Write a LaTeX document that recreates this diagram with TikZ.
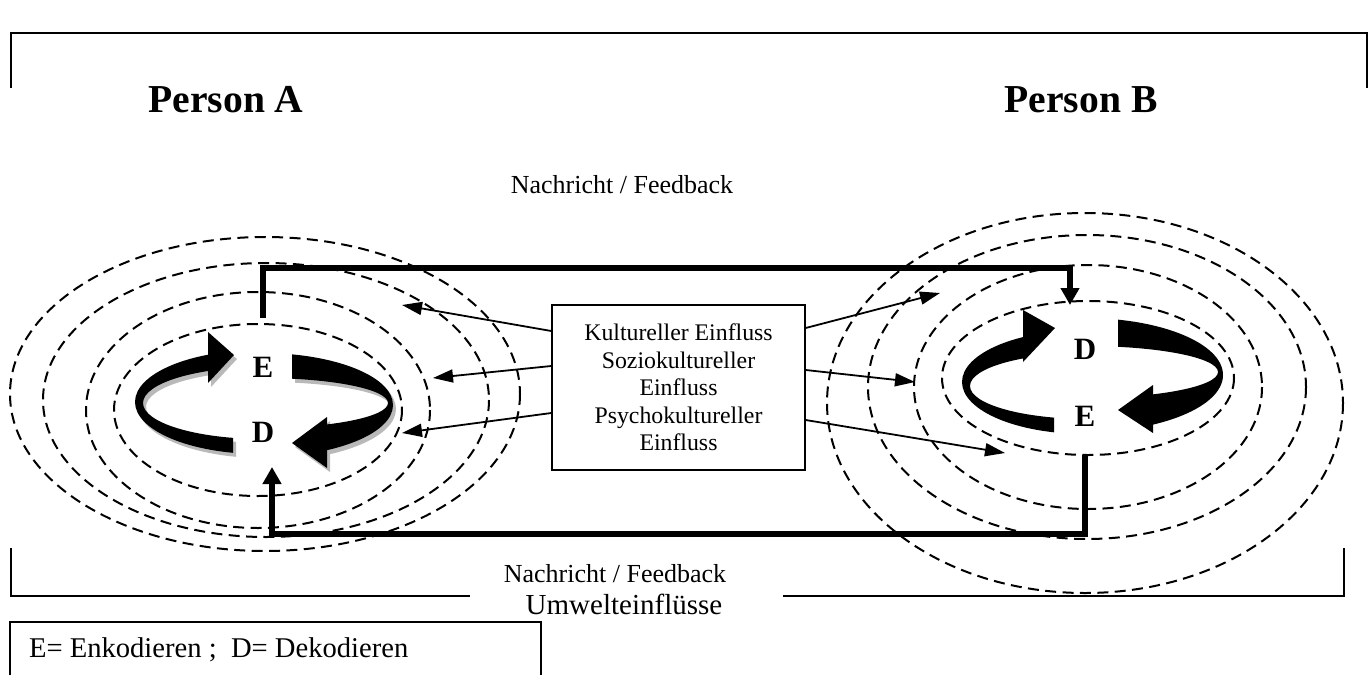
\documentclass[tikz,border=0pt]{standalone}
\usepackage{fontspec}
\setmainfont{Liberation Serif}
\usetikzlibrary{arrows.meta}

% Shapes of the two circular arrows of one person (band between two ellipses)
\newcommand{\cyclebandsA}{%
  \begin{scope}
    \clip (100,300) -- (208,300) -- (208,402) -- (233,402) -- (233,500) -- (100,500) -- cycle;
    \fill[even odd rule] (260,402) ellipse [x radius=125, y radius=52]
                         (263,403) ellipse [x radius=120, y radius=36];
  \end{scope}
  \fill (208,332) -- (234,355) -- (208,383) -- cycle;
  \begin{scope}
    \clip (292,300) -- (450,300) -- (450,500) -- (327,500) -- (327,404) -- (292,404) -- cycle;
    \fill[even odd rule] (262,405) ellipse [x radius=131, y radius=52]
                         (262,403) ellipse [x radius=126, y radius=25];
  \end{scope}
  \fill (327,417) -- (292,443) -- (327,468) -- cycle;
}
\newcommand{\cyclebandsB}{%
  \begin{scope}
    \clip (900,280) -- (1023,280) -- (1023,382) -- (1054,382) -- (1054,480) -- (900,480) -- cycle;
    \fill[even odd rule] (1085,382) ellipse [x radius=123, y radius=52]
                         (1088,386) ellipse [x radius=118, y radius=33];
  \end{scope}
  \fill (1023,310) -- (1055,328) -- (1023,362) -- cycle;
  \begin{scope}
    \clip (1118,280) -- (1300,280) -- (1300,480) -- (1153,480) -- (1153,375) -- (1118,375) -- cycle;
    \fill[even odd rule] (1085,375) ellipse [x radius=138, y radius=57]
                         (1085,372) ellipse [x radius=133, y radius=26];
  \end{scope}
  \fill (1153,385) -- (1118,410) -- (1153,433) -- cycle;
}

\begin{document}
\begin{tikzpicture}[x=0.5pt, y=-0.5pt,
  ring/.style={line width=1pt, dash pattern=on 5.5pt off 3.2pt},
  bracket/.style={line width=1pt},
  flow/.style={line width=2.6pt, -{Triangle[length=8.5pt,width=9pt]}},
  infl/.style={line width=0.9pt, -{Triangle[length=10pt,width=6.5pt]}},
  person/.style={font=\bfseries\fontsize{19.8}{23}\selectfont, anchor=base},
  msg/.style={font=\fontsize{13}{16}\selectfont, anchor=base},
  letter/.style={font=\bfseries\fontsize{15.5}{18}\selectfont},
]
\useasboundingbox (0,0) rectangle (1371,675);

% environment bracket (top and bottom)
\draw[bracket] (11,88) -- (11,33) -- (1367,33) -- (1367,88);
\coordinate (ul) at (11,548);
\coordinate (ur) at (1344,548);
\draw[bracket] (ul) |- (470,596);
\draw[bracket] (ur) |- (783,596);
\node[font=\fontsize{14.5}{17}\selectfont, anchor=base] (env) at (624,614) {Umwelteinflüsse};

% persons
\node[person] (pa) at (226,112) {Person A};
\node[person] (pb) at (1081,112) {Person B};

% field of influence around each person
\draw[ring] (265,394) ellipse [x radius=255, y radius=157];
\draw[ring] (266,400) ellipse [x radius=223, y radius=137];
\draw[ring] (258,410) ellipse [x radius=172, y radius=118];
\draw[ring] (258,410) ellipse [x radius=144, y radius=86];

\draw[ring] (1085,403) ellipse [x radius=258, y radius=190];
\draw[ring] (1087,387) ellipse [x radius=219, y radius=152];
\draw[ring] (1088,387) ellipse [x radius=174, y radius=122];
\draw[ring] (1088,378) ellipse [x radius=146, y radius=77];

% encoding / decoding cycles
\begin{scope}[shift={(3,4)}, gray!55]
  \cyclebandsA
\end{scope}
\begin{scope}[black]
  \cyclebandsA
\end{scope}
\begin{scope}[black]
  \cyclebandsB
\end{scope}
\node[letter] (ea) at (263,367) {E};
\node[letter] (da) at (263,432) {D};
\node[letter] (db) at (1085,349) {D};
\node[letter] (eb) at (1085,416) {E};

% message / feedback channels
\coordinate (a-out) at (263,318);
\coordinate (b-in)  at (1070,305);
\coordinate (b-out) at (1085,455);
\coordinate (a-in)  at (272,467);
\draw[flow] (a-out) -- (263,268) -| (b-in);
\draw[flow] (b-out) -- (1085,534) -| (a-in);
\node[msg] (msg-top) at (622,193) {Nachricht / Feedback};
\node[msg] (msg-bot) at (615,582) {Nachricht / Feedback};

% cultural influences
\node[draw, line width=0.7pt, minimum width=126.5pt, minimum height=82.5pt,
      align=center, font=\fontsize{11.9}{13.75}\selectfont, inner sep=0pt]
      (infl) at (678.5,387.5)
      {Kultureller Einfluss\\Soziokultureller\\Einfluss\\Psychokultureller\\Einfluss};
\coordinate (la1) at (402,305);
\coordinate (la2) at (433,378);
\coordinate (la3) at (402,433);
\coordinate (rb1) at (940,293);
\coordinate (rb2) at (915,382);
\coordinate (rb3) at (1005,453);
\draw[infl] (infl.west |- 0,331) -- (la1);
\draw[infl] (infl.west |- 0,366) -- (la2);
\draw[infl] (infl.west |- 0,413) -- (la3);
\draw[infl] (infl.east |- 0,328) -- (rb1);
\draw[infl] (infl.east |- 0,370) -- (rb2);
\draw[infl] (infl.east |- 0,420) -- (rb3);

% legend
\draw[bracket] (10,675) |- (541,622) -- (541,675);
\node[font=\fontsize{14.3}{17}\selectfont, anchor=base west] (legend) at (22,657)
  {E= Enkodieren ;\ \ D= Dekodieren};
\end{tikzpicture}
\end{document}
